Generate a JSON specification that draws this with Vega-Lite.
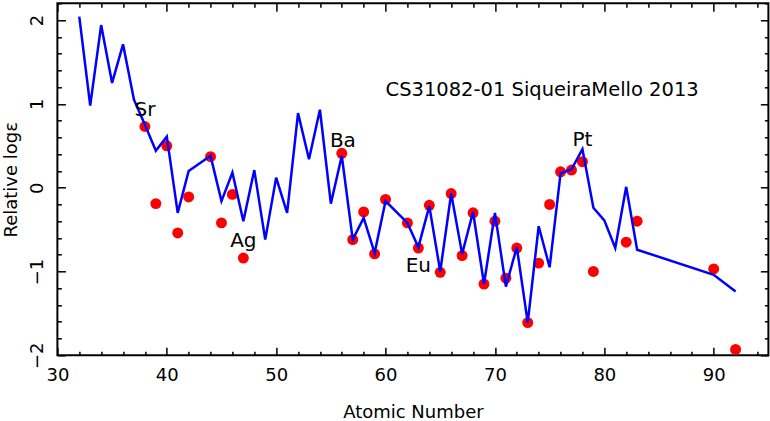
{
  "$schema": "https://vega.github.io/schema/vega-lite/v6.json",
  "width": 711,
  "height": 352,
  "autosize": {"type": "none"},
  "padding": {"left": 57.4, "top": 3.3, "right": 2, "bottom": 66},
  "background": "white",
  "config": {
    "view": {"stroke": "black", "strokeWidth": 2},
    "font": "DejaVu Sans",
    "axis": {
      "domain": false,
      "grid": false,
      "tickColor": "black",
      "tickWidth": 1.5,
      "labelColor": "black",
      "titleColor": "black",
      "labelFont": "DejaVu Sans",
      "titleFont": "DejaVu Sans",
      "labelFontSize": 18,
      "titleFontSize": 18,
      "titleFontWeight": "normal"
    }
  },
  "datasets": {
    "model": [
      {"Z": 32, "v": 2.04}, {"Z": 33, "v": 0.98}, {"Z": 34, "v": 1.94}, {"Z": 35, "v": 1.25},
      {"Z": 36, "v": 1.71}, {"Z": 37, "v": 1.05}, {"Z": 38, "v": 0.75}, {"Z": 39, "v": 0.44},
      {"Z": 40, "v": 0.61}, {"Z": 41, "v": -0.30}, {"Z": 42, "v": 0.20}, {"Z": 44, "v": 0.38},
      {"Z": 45, "v": -0.16}, {"Z": 46, "v": 0.18}, {"Z": 47, "v": -0.40}, {"Z": 48, "v": 0.21},
      {"Z": 49, "v": -0.62}, {"Z": 50, "v": 0.12}, {"Z": 51, "v": -0.30}, {"Z": 52, "v": 0.89},
      {"Z": 53, "v": 0.34}, {"Z": 54, "v": 0.93}, {"Z": 55, "v": -0.19}, {"Z": 56, "v": 0.38},
      {"Z": 57, "v": -0.62}, {"Z": 58, "v": -0.36}, {"Z": 59, "v": -0.78}, {"Z": 60, "v": -0.16},
      {"Z": 62, "v": -0.42}, {"Z": 63, "v": -0.71}, {"Z": 64, "v": -0.22}, {"Z": 65, "v": -1.00},
      {"Z": 66, "v": -0.07}, {"Z": 67, "v": -0.79}, {"Z": 68, "v": -0.29}, {"Z": 69, "v": -1.15},
      {"Z": 70, "v": -0.30}, {"Z": 71, "v": -1.18}, {"Z": 72, "v": -0.71}, {"Z": 73, "v": -1.61},
      {"Z": 74, "v": -0.46}, {"Z": 75, "v": -0.95}, {"Z": 76, "v": 0.17}, {"Z": 77, "v": 0.22},
      {"Z": 78, "v": 0.46}, {"Z": 79, "v": -0.24}, {"Z": 80, "v": -0.39}, {"Z": 81, "v": -0.72},
      {"Z": 82, "v": 0.01}, {"Z": 83, "v": -0.74}, {"Z": 90, "v": -1.04}, {"Z": 92, "v": -1.24}
    ],
    "obs": [
      {"Z": 38, "v": 0.73}, {"Z": 39, "v": -0.19}, {"Z": 40, "v": 0.50}, {"Z": 41, "v": -0.54},
      {"Z": 42, "v": -0.11}, {"Z": 44, "v": 0.37}, {"Z": 45, "v": -0.42}, {"Z": 46, "v": -0.08},
      {"Z": 47, "v": -0.84}, {"Z": 56, "v": 0.41}, {"Z": 57, "v": -0.62}, {"Z": 58, "v": -0.29},
      {"Z": 59, "v": -0.79}, {"Z": 60, "v": -0.14}, {"Z": 62, "v": -0.42}, {"Z": 63, "v": -0.72},
      {"Z": 64, "v": -0.21}, {"Z": 65, "v": -1.01}, {"Z": 66, "v": -0.07}, {"Z": 67, "v": -0.81},
      {"Z": 68, "v": -0.30}, {"Z": 69, "v": -1.15}, {"Z": 70, "v": -0.40}, {"Z": 71, "v": -1.08},
      {"Z": 72, "v": -0.72}, {"Z": 73, "v": -1.61}, {"Z": 74, "v": -0.90}, {"Z": 75, "v": -0.20},
      {"Z": 76, "v": 0.19}, {"Z": 77, "v": 0.21}, {"Z": 78, "v": 0.31}, {"Z": 79, "v": -1.00},
      {"Z": 82, "v": -0.65}, {"Z": 83, "v": -0.40}, {"Z": 90, "v": -0.97}, {"Z": 92, "v": -1.93}
    ],
    "labels": [
      {"Z": 38, "v": 0.93, "t": "Sr"},
      {"Z": 47, "v": -0.64, "t": "Ag"},
      {"Z": 56.1, "v": 0.56, "t": "Ba"},
      {"Z": 63, "v": -0.93, "t": "Eu"},
      {"Z": 78, "v": 0.57, "t": "Pt"}
    ],
    "title": [
      {"Z": 60, "v": 1.17, "t": "CS31082-01 SiqueiraMello 2013"}
    ]
  },
  "resolve": {"axis": {"x": "independent", "y": "independent"}},
  "layer": [
    {
      "data": {"name": "obs"},
      "mark": {"type": "point", "filled": true, "shape": "circle", "size": 120, "color": "#ff0000", "opacity": 1},
      "encoding": {
        "x": {"field": "Z", "type": "quantitative", "scale": {"domain": [30, 95], "nice": false, "zero": false},
          "axis": {"orient": "bottom", "values": [32,34,36,38,42,44,46,48,52,54,56,58,62,64,66,68,72,74,76,78,82,84,86,88,92,94], "tickSize": -4, "labels": false, "title": null}},
        "y": {"field": "v", "type": "quantitative", "scale": {"domain": [-2, 2.2], "nice": false, "zero": false},
          "axis": {"orient": "left", "values": [-1.8,-1.6,-1.4,-1.2,-0.8,-0.6,-0.4,-0.2,0.2,0.4,0.6,0.8,1.2,1.4,1.6,1.8,2.2], "tickSize": -4, "labels": false, "title": null}}
      }
    },
    {
      "data": {"name": "model"},
      "mark": {"type": "line", "color": "#0000ff", "strokeWidth": 2.5},
      "encoding": {
        "x": {"field": "Z", "type": "quantitative",
          "axis": {"orient": "bottom", "values": [30,40,50,60,70,80,90], "tickSize": -8, "labelPadding": 19, "labelFlush": false, "title": "Atomic Number", "titleY": 57, "titleBaseline": "middle"}},
        "y": {"field": "v", "type": "quantitative",
          "axis": {"orient": "left", "values": [-2,-1,0,1,2], "tickSize": -8, "labelPadding": 19, "labelAngle": -90, "labelAlign": "center", "labelBaseline": "bottom", "labelFlush": false, "labelExpr": "replace(datum.label, '-', '\u2212')", "title": "Relative log\u03b5", "titleX": -46, "titleBaseline": "middle", "titleAngle": -90}}
      }
    },
    {
      "data": {"name": "labels"},
      "mark": {"type": "text", "fontSize": 20, "font": "DejaVu Sans", "color": "black", "align": "center", "baseline": "middle"},
      "encoding": {
        "x": {"field": "Z", "type": "quantitative",
          "axis": {"orient": "top", "values": [30,40,50,60,70,80,90], "tickSize": -8, "labels": false, "title": null}},
        "y": {"field": "v", "type": "quantitative",
          "axis": {"orient": "right", "values": [-2,-1,0,1,2], "tickSize": -8, "labels": false, "title": null}},
        "text": {"field": "t"}
      }
    },
    {
      "data": {"name": "title"},
      "mark": {"type": "text", "fontSize": 19.5, "font": "DejaVu Sans", "color": "black", "align": "left", "baseline": "middle"},
      "encoding": {
        "x": {"field": "Z", "type": "quantitative",
          "axis": {"orient": "top", "values": [32,34,36,38,42,44,46,48,52,54,56,58,62,64,66,68,72,74,76,78,82,84,86,88,92,94], "tickSize": -4, "labels": false, "title": null}},
        "y": {"field": "v", "type": "quantitative",
          "axis": {"orient": "right", "values": [-1.8,-1.6,-1.4,-1.2,-0.8,-0.6,-0.4,-0.2,0.2,0.4,0.6,0.8,1.2,1.4,1.6,1.8,2.2], "tickSize": -4, "labels": false, "title": null}},
        "text": {"field": "t"}
      }
    }
  ]
}
